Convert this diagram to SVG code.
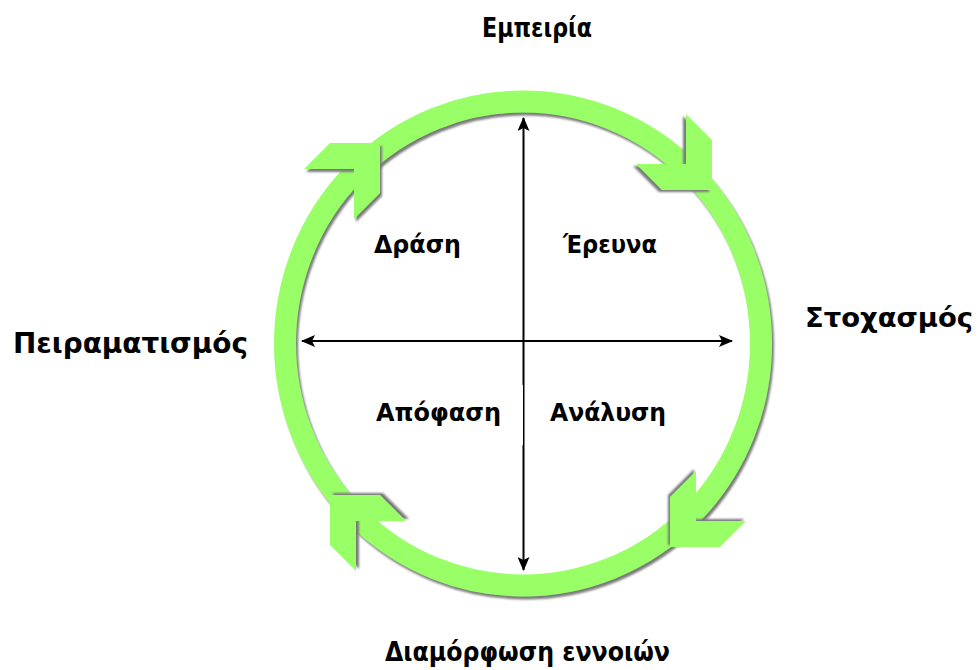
<svg xmlns="http://www.w3.org/2000/svg" width="978" height="670" viewBox="0 0 978 670">
  <style>
    .lbl { font-family: "DejaVu Sans", "Liberation Sans", sans-serif; font-weight: bold; fill: #000; }
    .ax { stroke: #000; stroke-width: 2; fill: none; }
    .g { fill: #99FF66; }
  </style>
  <defs>
    <filter id="sh" x="-10%" y="-10%" width="120%" height="120%">
      <feGaussianBlur in="SourceAlpha" stdDeviation="0.8" result="b"/>
      <feOffset in="b" dx="2" dy="2.5" result="o"/>
      <feFlood flood-color="#7a7a7a"/>
      <feComposite in2="o" operator="in" result="s"/>
      <feMerge><feMergeNode in="s"/><feMergeNode in="SourceGraphic"/></feMerge>
    </filter>
    <polygon id="chev" points="0,0 -50,0 -76,26 -26,26 -26,76 0,50"/>
    <marker id="ah" viewBox="0 0 14 12" refX="13" refY="6" markerWidth="14" markerHeight="12" markerUnits="userSpaceOnUse" orient="auto-start-reverse">
      <path d="M0,0 L14,6 L0,12 L3,6 Z" fill="#000"/>
    </marker>
  </defs>
  <rect width="978" height="670" fill="#fff"/>

  <g id="cycle">
    <ellipse cx="523" cy="343.5" rx="238" ry="242" fill="none" stroke="#99FF66" stroke-width="22" filter="url(#sh)"/>
    <use href="#chev" class="g" transform="translate(380,143)" filter="url(#sh)"/>
    <use href="#chev" class="g" transform="translate(712,190) rotate(90)" filter="url(#sh)"/>
    <use href="#chev" class="g" transform="translate(670,547) rotate(180)" filter="url(#sh)"/>
    <use href="#chev" class="g" transform="translate(330,495) rotate(-90)" filter="url(#sh)"/>
  </g>

  <g id="connectors">
    <line class="ax" x1="523.5" y1="570" x2="523.5" y2="118" marker-start="url(#ah)" marker-end="url(#ah)"/>
    <line class="ax" x1="302" y1="341" x2="732" y2="341" marker-start="url(#ah)" marker-end="url(#ah)"/>
    <rect x="370" y="385" width="153" height="60" fill="#fff"/>
  </g>

  <g id="n-empeiria"><text class="lbl" x="482" y="37" font-size="26" textLength="110" lengthAdjust="spacingAndGlyphs">Εμπειρία</text></g>
  <g id="n-peiramatismos"><text class="lbl" x="13" y="353" font-size="28" textLength="235" lengthAdjust="spacingAndGlyphs">Πειραματισμός</text></g>
  <g id="n-stochasmos"><text class="lbl" x="805" y="327" font-size="27" textLength="168" lengthAdjust="spacingAndGlyphs">Στοχασμός</text></g>
  <g id="n-diamorfosi"><text class="lbl" x="385" y="661" font-size="27" textLength="285" lengthAdjust="spacingAndGlyphs">Διαμόρφωση εννοιών</text></g>
  <g id="n-drasi"><text class="lbl" x="374" y="253" font-size="24" textLength="87" lengthAdjust="spacingAndGlyphs">Δράση</text></g>
  <g id="n-erevna"><text class="lbl" x="563" y="253" font-size="24" textLength="94" lengthAdjust="spacingAndGlyphs">Έρευνα</text></g>
  <g id="n-apofasi"><text class="lbl" x="376" y="421" font-size="24" textLength="125" lengthAdjust="spacingAndGlyphs">Απόφαση</text></g>
  <g id="n-analysi"><text class="lbl" x="550" y="421" font-size="24" textLength="116" lengthAdjust="spacingAndGlyphs">Ανάλυση</text></g>
</svg>
